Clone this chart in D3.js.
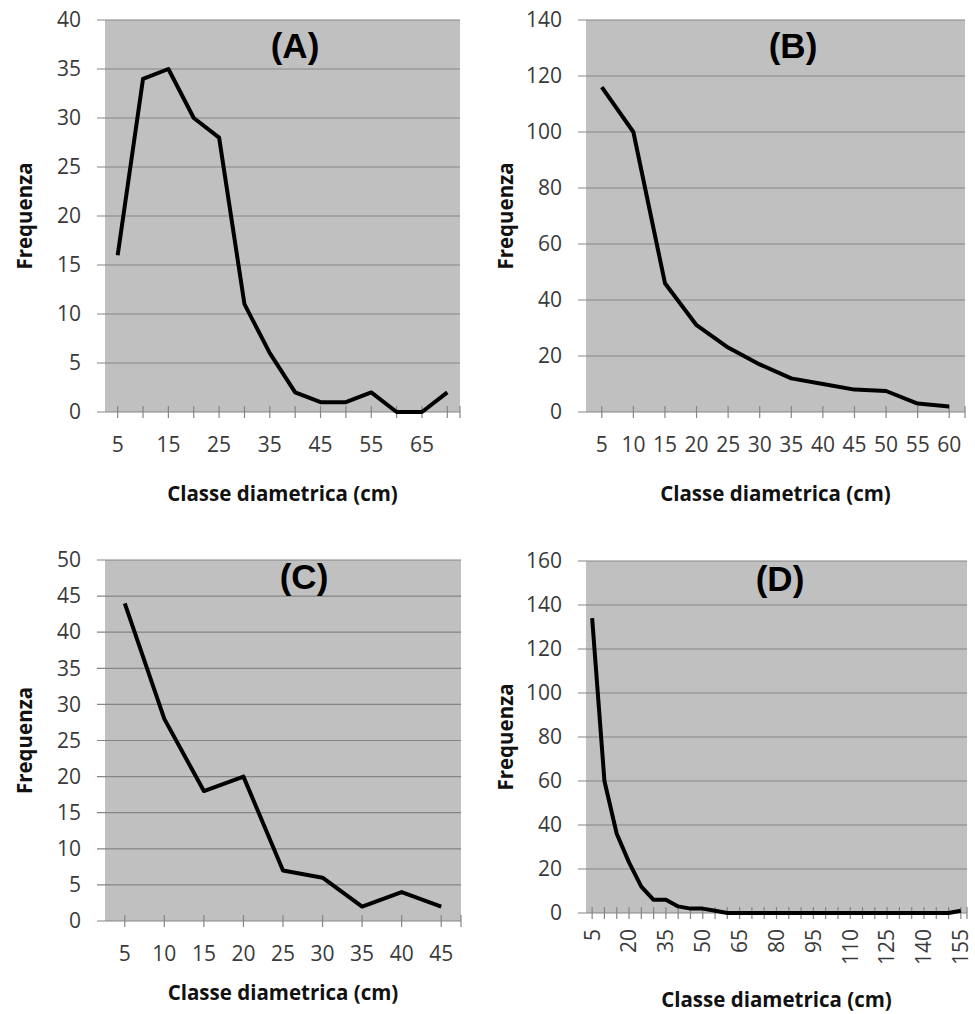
<!DOCTYPE html>
<html>
<head>
<meta charset="utf-8">
<script src="https://cdn.jsdelivr.net/npm/d3@7"></script>
<style>
  body { margin: 0; background: #fff; }
  .axisTitle { font-family: "Open Sans", sans-serif; font-size: 20.5px; font-weight: bold; fill: #111; }
  .panelTitle { font-family: "Liberation Sans", Arial, sans-serif; font-size: 35px; font-weight: bold; fill: #000; }
</style>
</head>
<body>
<svg id="chart" width="975" height="1014"></svg>
<script>
// Diameter classes (cm) and frequencies for each panel
const classesA = [5, 10, 15, 20, 25, 30, 35, 40, 45, 50, 55, 60, 65, 70];
const freqA    = [16, 34, 35, 30, 28, 11, 6, 2, 1, 1, 2, 0, 0, 2];
const labelsA  = [5, 15, 25, 35, 45, 55, 65];
const yTicksA  = [0, 5, 10, 15, 20, 25, 30, 35, 40];

const classesB = [5, 10, 15, 20, 25, 30, 35, 40, 45, 50, 55, 60];
const freqB    = [116, 100, 46, 31, 23, 17, 12, 10, 8, 7.5, 3, 2];
const labelsB  = [5, 10, 15, 20, 25, 30, 35, 40, 45, 50, 55, 60];
const yTicksB  = [0, 20, 40, 60, 80, 100, 120, 140];

const classesC = [5, 10, 15, 20, 25, 30, 35, 40, 45];
const freqC    = [44, 28, 18, 20, 7, 6, 2, 4, 2];
const labelsC  = [5, 10, 15, 20, 25, 30, 35, 40, 45];
const yTicksC  = [0, 5, 10, 15, 20, 25, 30, 35, 40, 45, 50];

const classesD = [5, 10, 15, 20, 25, 30, 35, 40, 45, 50, 55, 60, 65, 70, 75, 80,
                  85, 90, 95, 100, 105, 110, 115, 120, 125, 130, 135, 140, 145, 150, 155];
const freqD    = [134, 60, 36, 23, 12, 6, 6, 3, 2, 2, 1, 0, 0, 0, 0, 0,
                  0, 0, 0, 0, 0, 0, 0, 0, 0, 0, 0, 0, 0, 0, 1];
const labelsD  = [5, 20, 35, 50, 65, 80, 95, 110, 125, 140, 155];
const yTicksD  = [0, 20, 40, 60, 80, 100, 120, 140, 160];

const xTitle = "Classe diametrica (cm)";
const yTitle = "Frequenza";

// Panel layout (pixel boxes of each plot area), kept apart from the data
const panels = [
  { name: "(A)", classes: classesA, freq: freqA, labels: labelsA, yTicks: yTicksA,
    left: 105, right: 460, top: 20, bottom: 412, titleX: 295, titleY: 58, xTitleY: 501, rotate: false },
  { name: "(B)", classes: classesB, freq: freqB, labels: labelsB, yTicks: yTicksB,
    left: 586, right: 965, top: 20, bottom: 412, titleX: 793, titleY: 58, xTitleY: 501, rotate: false },
  { name: "(C)", classes: classesC, freq: freqC, labels: labelsC, yTicks: yTicksC,
    left: 105, right: 461, top: 560, bottom: 921, titleX: 304, titleY: 589, xTitleY: 1000, rotate: false },
  { name: "(D)", classes: classesD, freq: freqD, labels: labelsD, yTicks: yTicksD,
    left: 586, right: 967, top: 561, bottom: 913, titleX: 780, titleY: 591, xTitleY: 1007, rotate: true }
];

var svg = d3.select("#chart");

// d3.axis puts font attributes on its group; override them there
function styleAxis(sel) {
  sel.attr("font-family", "'Open Sans', sans-serif")
    .attr("font-size", 21)
    .attr("fill", "#3a3a3a");
  sel.selectAll(".tick text").attr("fill", "#3a3a3a");
}

panels.forEach(function(p) {
  var w = p.right - p.left;
  var h = p.bottom - p.top;

  var x = d3.scaleBand().domain(p.classes).range([0, w]).padding(0);
  var y = d3.scaleLinear().domain([0, d3.max(p.yTicks)]).range([h, 0]);

  var g = svg.append("g").attr("transform", `translate(${p.left},${p.top})`);

  // grey plot area
  g.append("rect")
    .attr("width", w)
    .attr("height", h)
    .attr("fill", "#c0c0c0");

  // horizontal gridlines, sticking out a little to the left as tick marks
  g.selectAll(".grid")
    .data(p.yTicks)
    .enter()
    .append("line")
    .attr("x1", -8)
    .attr("x2", w)
    .attr("y1", d => y(d))
    .attr("y2", d => y(d))
    .attr("stroke", "#858585")
    .attr("stroke-width", 1.2);

  // y axis labels
  var yAxis = d3.axisLeft(y).tickValues(p.yTicks).tickSize(0).tickPadding(24);
  var yg = g.append("g").call(yAxis);
  yg.select(".domain").remove();
  styleAxis(yg);

  // x axis: ticks cross the baseline at each class
  var xAxis = d3.axisBottom(x)
    .tickSize(6)
    .tickFormat(d => p.labels.includes(d) ? d : "");
  var xg = g.append("g")
    .attr("transform", `translate(0,${h})`)
    .call(xAxis);
  xg.select(".domain").remove();
  xg.selectAll(".tick line").attr("y1", -6).attr("stroke", "#858585").attr("stroke-width", 1.2);
  styleAxis(xg);

  // closing tick at the right end of the axis
  g.append("line")
    .attr("x1", w).attr("x2", w)
    .attr("y1", h - 6).attr("y2", h + 6)
    .attr("stroke", "#858585").attr("stroke-width", 1.2);

  if (p.rotate) {
    xg.selectAll(".tick text")
      .attr("transform", "rotate(-90)")
      .attr("x", -16)
      .attr("y", 0)
      .attr("dy", "0.35em")
      .attr("text-anchor", "end");
  } else {
    xg.selectAll(".tick text").attr("y", 25).attr("dy", "0.71em");
  }

  // frequency line
  var line = d3.line()
    .x((d, i) => x(p.classes[i]) + x.bandwidth() / 2)
    .y(d => y(d));

  g.append("path")
    .datum(p.freq)
    .attr("d", line)
    .attr("fill", "none")
    .attr("stroke", "#000")
    .attr("stroke-width", 4)
    .attr("stroke-linejoin", "round");

  // panel letter
  svg.append("text")
    .classed("panelTitle", true)
    .attr("x", p.titleX)
    .attr("y", p.titleY)
    .attr("text-anchor", "middle")
    .text(p.name);

  // axis titles
  svg.append("text")
    .classed("axisTitle", true)
    .attr("x", p.left + w / 2)
    .attr("y", p.xTitleY)
    .attr("text-anchor", "middle")
    .text(xTitle);

  svg.append("text")
    .classed("axisTitle", true)
    .attr("transform", `translate(${p.left - 80},${p.top + h / 2}) rotate(-90)`)
    .attr("text-anchor", "middle")
    .attr("dy", "0.35em")
    .text(yTitle);
});
</script>
</body>
</html>
